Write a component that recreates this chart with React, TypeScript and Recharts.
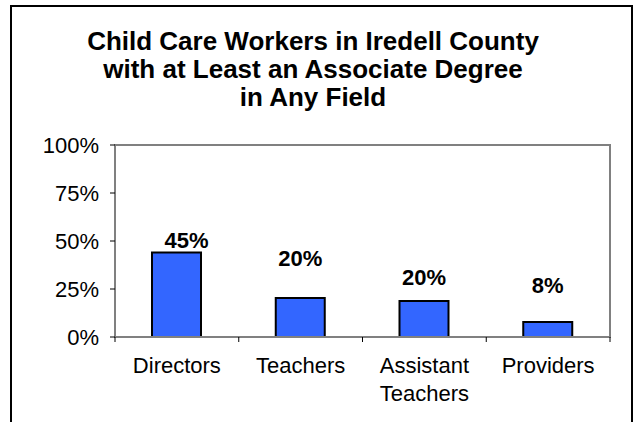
import { BarChart, Bar, XAxis, YAxis, LabelList } from "recharts";

const categories = ["Directors", "Teachers", "Assistant\nTeachers", "Providers"];
const shares = [44, 20.3, 18.8, 7.8];
const shareLabels = ["45%", "20%", "20%", "8%"];
const yTicks = [0, 25, 50, 75, 100];
const titleLines = [
  "Child Care Workers in Iredell County",
  "with at Least an Associate Degree",
  "in Any Field",
];

// how far each value label sits above / beside its bar
const labelLift = [5, 32, 16, 29];
const labelShift = [10, 0, 0, 0];

const FONT = "'Liberation Sans', Arial, sans-serif";
const W = 636;
const H = 422;
const M = { top: 145, right: 26, bottom: 25, left: 0 };
const Y_AXIS_W = 115;
const X_AXIS_H = 60;
const PLOT_W = W - M.left - M.right - Y_AXIS_W;
const PLOT_H = H - M.top - M.bottom - X_AXIS_H;
const BAND = PLOT_W / categories.length;

const chartData = categories.map((name, i) => ({
  name,
  share: shares[i],
}));

function CategoryTick({ x, y, payload, index }: any) {
  const lines = String(payload.value).split("\n");
  const axisY = y - 20;
  const last = index === categories.length - 1;
  return (
    <g>
      <line x1={x - BAND / 2} x2={x - BAND / 2} y1={axisY} y2={axisY + 5} stroke="#000" />
      {last && (
        <line x1={x + BAND / 2} x2={x + BAND / 2} y1={axisY} y2={axisY + 5} stroke="#000" />
      )}
      <text x={x} y={y} textAnchor="middle" fontSize={22} fill="#000" fontFamily={FONT}>
        {lines.map((line, i) => (
          <tspan key={i} x={x} dy={i === 0 ? "0.71em" : 28}>
            {line}
          </tspan>
        ))}
      </text>
    </g>
  );
}

function ShareLabel(props: any) {
  const { x, y, width, value } = props;
  const i = categories.indexOf(value);
  if (i < 0) return null;
  return (
    <text
      x={x + width / 2 + labelShift[i]}
      y={y - labelLift[i]}
      textAnchor="middle"
      fontSize={22}
      fontWeight="bold"
      fill="#000"
      fontFamily={FONT}
    >
      {shareLabels[i]}
    </text>
  );
}

export default function App() {
  return (
    <div style={{ position: "absolute", left: 0, top: 0, width: W, height: H, overflow: "hidden", background: "#fff" }}>
      <div
        style={{
          position: "absolute",
          left: 10,
          top: 5,
          width: 623,
          height: H - 5,
          boxSizing: "border-box",
          borderTop: "2px solid #000",
          borderLeft: "2px solid #000",
          borderRight: "2px solid #000",
        }}
      />
      <div
        style={{
          position: "absolute",
          left: 0,
          top: 27,
          width: 626,
          textAlign: "center",
          fontFamily: FONT,
          fontWeight: "bold",
          fontSize: 26,
          lineHeight: "28px",
          color: "#000",
        }}
      >
        {titleLines.map((t) => (
          <div key={t}>{t}</div>
        ))}
      </div>
      {/* plot frame */}
      <div
        style={{
          position: "absolute",
          left: M.left + Y_AXIS_W - 1,
          top: M.top - 1,
          width: PLOT_W + 2,
          height: PLOT_H + 2,
          boxSizing: "border-box",
          border: "2px solid #808080",
        }}
      />
      <BarChart
        width={W}
        height={H}
        data={chartData}
        margin={M}
        style={{ position: "absolute", left: 0, top: 0 }}
      >
        <XAxis
          dataKey="name"
          tick={<CategoryTick />}
          tickLine={false}
          axisLine={{ stroke: "#808080", strokeWidth: 2 }}
          tickSize={6}
          tickMargin={14}
          height={X_AXIS_H}
          interval={0}
        />
        <YAxis
          domain={[0, 100]}
          ticks={yTicks}
          tickFormatter={(v: number) => `${v}%`}
          tick={{ fontSize: 22, fill: "#000", fontFamily: FONT }}
          tickLine={{ stroke: "#000" }}
          axisLine={{ stroke: "#808080", strokeWidth: 2 }}
          tickSize={5}
          tickMargin={11}
          width={Y_AXIS_W}
          interval={0}
        />
        <Bar
          dataKey="share"
          fill="#3366FF"
          stroke="#000"
          strokeWidth={2}
          barSize={49}
          isAnimationActive={false}
        >
          <LabelList dataKey="name" content={<ShareLabel />} />
        </Bar>
      </BarChart>
    </div>
  );
}
